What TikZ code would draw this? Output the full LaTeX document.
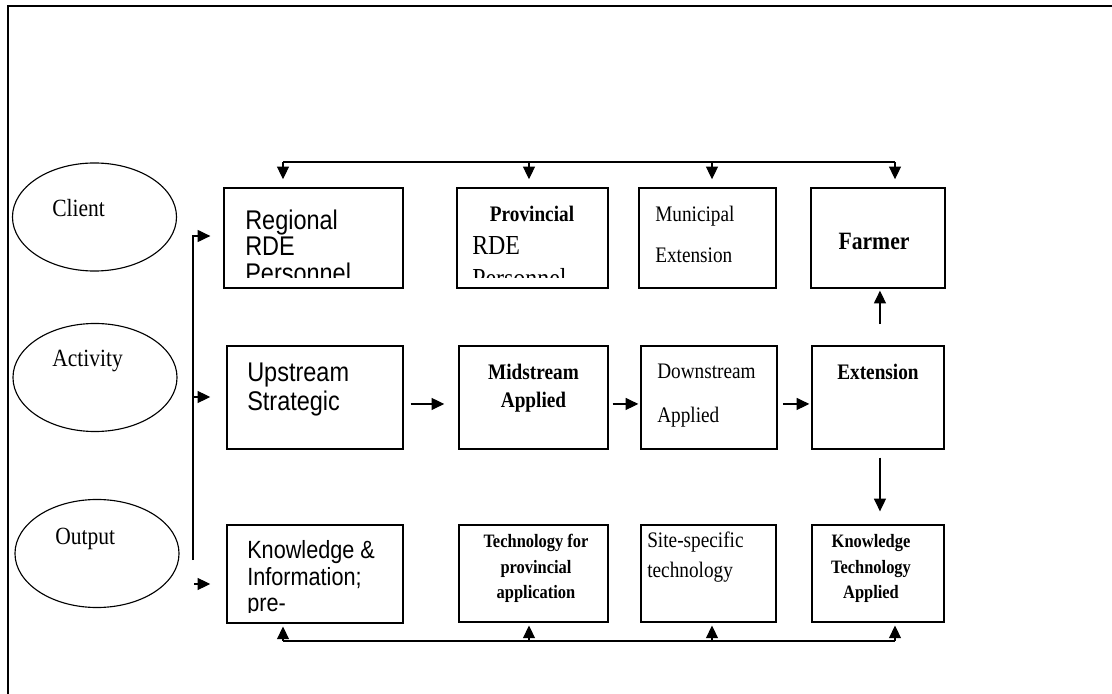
\documentclass[tikz,border=0pt]{standalone}
\usepackage{fontspec}
\setmainfont{Liberation Serif}
\newfontfamily\arialfont{Liberation Sans}
\usetikzlibrary{arrows.meta,fit,shapes.geometric}

\tikzset{
  stagebox/.style={draw, line width=1pt, inner sep=0pt},
  roundbox/.style={draw, ellipse, line width=0.8pt, inner sep=0pt,
    minimum width=4.1cm, minimum height=2.7cm},
  lbl/.style={anchor=base west, inner sep=0pt},
  clbl/.style={anchor=base, inner sep=0pt},
  arr/.style={-{Triangle[length=9pt,width=8.5pt]}, line width=0.8pt},
  bus/.style={line width=0.8pt},
}
\newcommand{\arialtxt}{\arialfont\fontsize{16.7}{19}\selectfont}
\newcommand{\arialsmall}{\arialfont\fontsize{15.4}{18}\selectfont}
\newcommand{\timestxt}{\fontsize{13.7}{16}\selectfont}
\newcommand{\timesbig}{\fontsize{17}{20}\selectfont}
\newcommand{\timessmall}{\bfseries\fontsize{11.7}{14}\selectfont}
\newcommand{\ovaltxt}{\fontsize{15.3}{18}\selectfont}
% letters in the scan are a little taller than wide
\newcommand{\tall}[1]{\scalebox{1}[1.15]{#1}}

\begin{document}
\begin{tikzpicture}[x=0.025cm, y=-0.025cm]
\useasboundingbox (0,0) rectangle (1112,694);

% Frame (top and left only)
\draw [line width=1.4pt] (1112,6) -- (8,6) -- (8,694);

% Ovals
\node [roundbox] (client) at (94.5,217) {};
\node [roundbox] (activity) at (95,377.5) {};
\node [roundbox] (output) at (97,553.5) {};
\node [lbl, font=\ovaltxt] (clienttxt) at (52,217) {\tall{Client}};
\node [lbl, font=\ovaltxt] (activitytxt) at (52,367) {\tall{Activity}};
\node [lbl, font=\ovaltxt] (outputtxt) at (55,544) {\tall{Output}};

% Client row
\node [stagebox, fit={(224,188) (403,288)}] (reg) {};
\node [stagebox, fit={(457,188) (608,288)}] (prov) {};
\node [stagebox, fit={(639,188) (776,288)}] (muni) {};
\node [stagebox, fit={(811,188) (945,288)}] (farm) {};

% Activity row
\node [stagebox, fit={(227,346) (403,449)}] (up) {};
\node [stagebox, fit={(459,346) (608,449)}] (mid) {};
\node [stagebox, fit={(641,346) (777,449)}] (down) {};
\node [stagebox, fit={(812,346) (944,449)}] (ext) {};

% Output row
\node [stagebox, fit={(227,525) (403,623)}] (know) {};
\node [stagebox, fit={(459,525) (608,622)}] (tech) {};
\node [stagebox, fit={(641,525) (776,622)}] (site) {};
\node [stagebox, fit={(812,525) (944,622)}] (kta) {};

% Texts of the boxes (clipped as in the text boxes)
\begin{scope}
  \clip (224,188) rectangle (403,278);
  \node [lbl, font=\arialtxt] (reg1) at (245,230) {\tall{Regional}};
  \node [lbl, font=\arialtxt] (reg2) at (245,256) {\tall{RDE}};
  \node [lbl, font=\arialtxt] (reg3) at (245,283) {\tall{Personnel}};
\end{scope}
\begin{scope}
  \clip (457,188) rectangle (608,278);
  \node [clbl, font=\timestxt\bfseries] (prov1) at (532,222) {\tall{Provincial}};
  \node [lbl, font=\timesbig] (prov2) at (472,255) {\tall{RDE}};
  \node [lbl, font=\timesbig] (prov3) at (472,288) {\tall{Personnel}};
\end{scope}
\node [lbl, font=\timestxt] (muni1) at (655,222) {\tall{Municipal}};
\node [lbl, font=\timestxt] (muni2) at (655,263) {\tall{Extension}};
\node [clbl, font=\bfseries\fontsize{15.4}{18}\selectfont] (farm1) at (874,250) {\tall{Farmer}};

\node [lbl, font=\arialtxt] (up1) at (247,382) {\tall{Upstream}};
\node [lbl, font=\arialtxt] (up2) at (247,411) {\tall{Strategic}};
\node [clbl, font=\timestxt\bfseries] (mid1) at (533.5,380) {\tall{Midstream}};
\node [clbl, font=\timestxt\bfseries] (mid2) at (533.5,408) {\tall{Applied}};
\node [lbl, font=\timestxt] (down1) at (657,379) {\tall{Downstream}};
\node [lbl, font=\timestxt] (down2) at (657,423) {\tall{Applied}};
\node [clbl, font=\timestxt\bfseries] (ext1) at (878,380) {\tall{Extension}};

\begin{scope}
  \clip (227,525) rectangle (403,612);
  \node [lbl, font=\arialsmall] (know1) at (247,558) {\tall{Knowledge \&}};
  \node [lbl, font=\arialsmall] (know2) at (247,585) {\tall{Information;}};
  \node [lbl, font=\arialsmall] (know3) at (247,611) {\tall{pre-}};
\end{scope}
\node [clbl, font=\timessmall] (tech1) at (536,547) {\tall{Technology for}};
\node [clbl, font=\timessmall] (tech2) at (536,573) {\tall{provincial}};
\node [clbl, font=\timessmall] (tech3) at (536,598) {\tall{application}};
\node [lbl, font=\timestxt] (site1) at (647,547) {\tall{Site-specific}};
\node [lbl, font=\timestxt] (site2) at (647,577) {\tall{technology}};
\node [clbl, font=\timessmall] (kta1) at (871,547) {\tall{Knowledge}};
\node [clbl, font=\timessmall] (kta2) at (871,573) {\tall{Technology}};
\node [clbl, font=\timessmall] (kta3) at (871,598) {\tall{Applied}};

% Top bus to the client boxes
\coordinate (tb1) at (283,162);
\coordinate (tb2) at (529,162);
\coordinate (tb3) at (712,162);
\coordinate (tb4) at (895,162);
\draw [bus] (tb1) -- (tb4);
\draw [arr, shorten >=5.7pt] (tb1) -- (tb1 |- reg.north);
\draw [arr, shorten >=5.7pt] (tb2) -- (tb2 |- prov.north);
\draw [arr, shorten >=5.7pt] (tb3) -- (tb3 |- muni.north);
\draw [arr, shorten >=5.7pt] (tb4) -- (tb4 |- farm.north);

% Feeder line on the left
\coordinate (fbot) at (193,560);
\coordinate (ftop) at (193,236);
\coordinate (fmid) at (193,397);
\coordinate (fout) at (194,584);
\draw [arr, shorten >=9.2pt] (fbot) -- (ftop) -- (ftop -| reg.west);
\draw [arr, shorten >=11.4pt] (fmid) -- (fmid -| up.west);
\draw [arr, shorten >=11.4pt] (fout) -- (fout -| know.west);

% Activity chain
\draw [arr, shorten <=5pt, shorten >=10pt] ([yshift=-4.6pt]up.east) -- ([yshift=-4.6pt]mid.west);
\draw [arr, shorten <=2.8pt, shorten >=1.4pt] ([yshift=-4.6pt]mid.east) -- ([yshift=-4.6pt]down.west);
\draw [arr, shorten <=3.6pt, shorten >=1.4pt] ([yshift=-4.6pt]down.east) -- ([yshift=-4.6pt]ext.west);
\draw [arr, shorten <=15pt, shorten >=1.4pt] ([xshift=1.4pt]ext.north) -- ([xshift=1.4pt]farm.south);
\draw [arr, shorten <=5.7pt, shorten >=9.2pt] ([xshift=1.4pt]ext.south) -- ([xshift=1.4pt]kta.north);

% Bottom bus to the output boxes
\coordinate (bb1) at (283,641);
\coordinate (bb2) at (529,641);
\coordinate (bb3) at (712,641);
\coordinate (bb4) at (895,641);
\draw [bus] (bb1) -- (bb4);
\draw [arr, shorten >=2pt] (bb1) -- (bb1 |- know.south);
\draw [arr, shorten >=2pt] (bb2) -- (bb2 |- tech.south);
\draw [arr, shorten >=2pt] (bb3) -- (bb3 |- site.south);
\draw [arr, shorten >=2pt] (bb4) -- (bb4 |- kta.south);
\end{tikzpicture}
\end{document}
